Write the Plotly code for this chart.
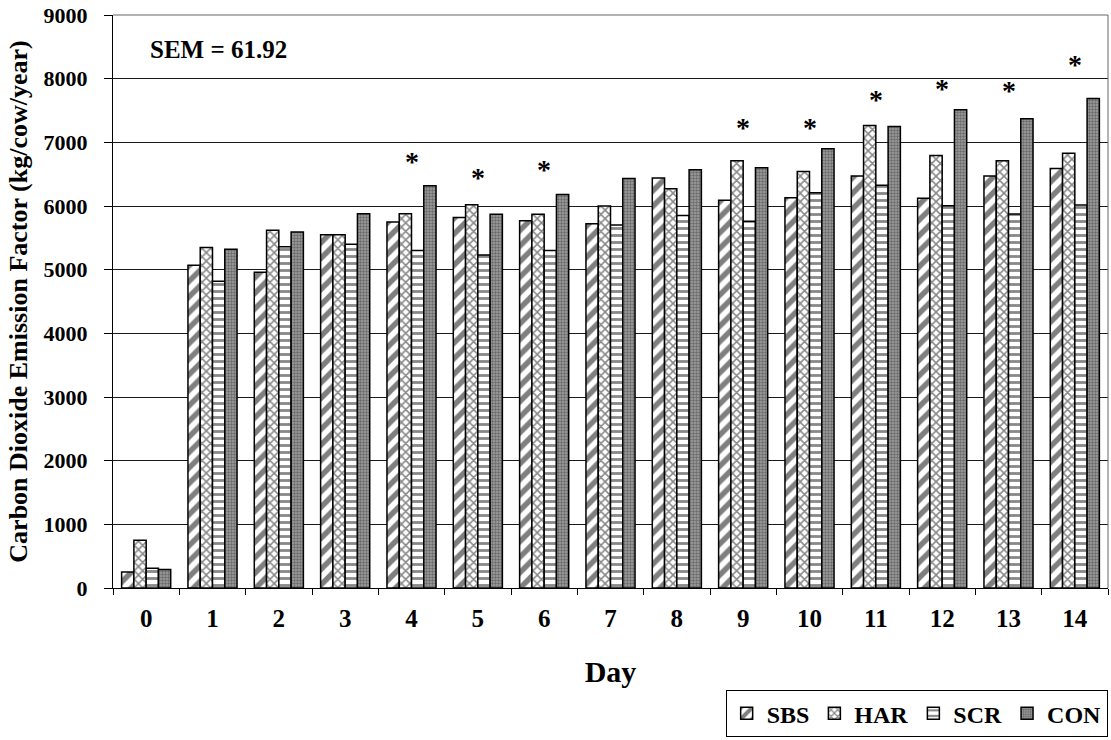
import plotly.graph_objects as go

days = [str(d) for d in range(15)]
SBS = [250, 5070, 4960, 5550, 5750, 5820, 5770, 5720, 6440, 6090, 6130, 6470, 6120, 6470, 6590]
HAR = [750, 5350, 5620, 5550, 5880, 6020, 5870, 6000, 6270, 6710, 6540, 7265, 6795, 6710, 6830]
SCR = [310, 4820, 5360, 5400, 5300, 5230, 5300, 5700, 5850, 5760, 6210, 6325, 6005, 5875, 6015]
CON = [290, 5320, 5590, 5880, 6320, 5870, 6180, 6430, 6570, 6600, 6900, 7250, 7510, 7370, 7690]

star_days = ["4", "5", "6", "9", "10", "11", "12", "13", "14"]
star_y = [6700, 6440, 6580, 7240, 7240, 7680, 7840, 7820, 8230]

FONT = "Liberation Serif"

series = [
    ("SBS", SBS, dict(shape="/", fgcolor="black", bgcolor="white", size=11, solidity=0.5)),
    ("HAR", HAR, dict(shape="x", fgcolor="#111111", bgcolor="white", size=6, solidity=0.45)),
    ("SCR", SCR, dict(shape="-", fgcolor="#111111", bgcolor="white", size=7, solidity=0.4)),
    ("CON", CON, dict(shape=".", fgcolor="#333333", bgcolor="#a0a0a0", size=3, solidity=0.5)),
]

fig = go.Figure()
for name, vals, pat in series:
    fig.add_trace(go.Bar(
        x=days, y=vals, name="<b>" + name + "</b>",
        marker=dict(color="white", pattern=pat, line=dict(color="black", width=1.5)),
    ))

for d, yv in zip(star_days, star_y):
    fig.add_annotation(x=d, y=yv, text="<b>*</b>", showarrow=False,
                       font=dict(family=FONT, size=28, color="black"),
                       xanchor="center", yanchor="middle")

fig.add_annotation(xref="paper", yref="paper", x=0.035, y=0.94, text="<b>SEM = 61.92</b>",
                   showarrow=False, xanchor="left", yanchor="middle",
                   font=dict(family=FONT, size=25, color="black"))

# top and right frame
fig.add_shape(type="line", xref="paper", yref="paper", x0=0, x1=1, y0=1, y1=1,
              line=dict(color="#666666", width=1))
fig.add_shape(type="line", xref="paper", yref="paper", x0=1, x1=1, y0=0, y1=1,
              line=dict(color="#666666", width=1))

fig.update_layout(
    width=1111, height=740,
    margin=dict(l=113, r=3, t=15, b=152),
    paper_bgcolor="white", plot_bgcolor="white",
    barmode="group", bargap=0.26, bargroupgap=0,
    font=dict(family=FONT, color="black"),
    showlegend=True,
    legend=dict(orientation="h", xref="container", yref="container",
                x=0.997, y=0.004, xanchor="right", yanchor="bottom",
                bordercolor="black", borderwidth=1, bgcolor="white",
                font=dict(family=FONT, size=24, color="black"),
                itemwidth=30, tracegroupgap=0),
    xaxis=dict(
        type="category", tickson="boundaries", ticks="outside", ticklen=6,
        tickcolor="black", showline=True, linecolor="black", linewidth=1,
        tickfont=dict(family=FONT, size=25, color="black"),
        ticklabelstandoff=8,
        title=dict(text="<b>Day</b>", font=dict(family=FONT, size=30, color="black"), standoff=29),
        tickprefix="<b>", ticksuffix="</b>",
    ),
    yaxis=dict(
        range=[0, 9000], dtick=1000, ticks="outside", ticklen=8, tickcolor="black",
        showline=True, linecolor="black", linewidth=1,
        showgrid=True, gridcolor="#1a1a1a", gridwidth=1,
        tickfont=dict(family=FONT, size=22, color="black"),
        ticklabelstandoff=12,
        tickprefix="<b>", ticksuffix="</b>",
        title=dict(text="<b>Carbon Dioxide Emission Factor (kg/cow/year)</b>",
                   font=dict(family=FONT, size=26, color="black"), standoff=8),
        zeroline=False,
    ),
)

fig.write_html("out.html")
